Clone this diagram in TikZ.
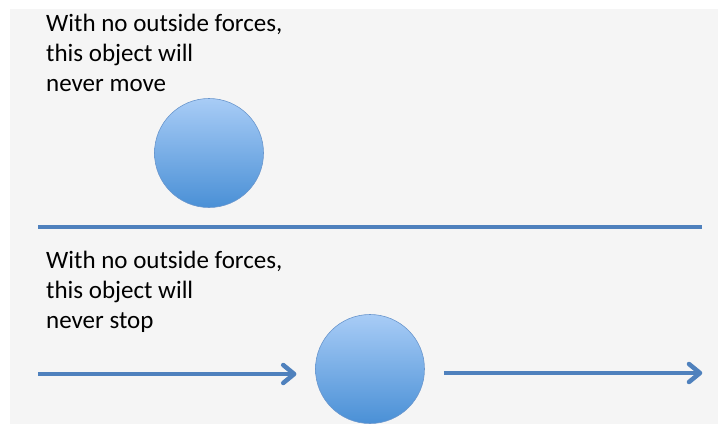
\documentclass[tikz,border=0pt]{standalone}
\usepackage{fontspec}
\setmainfont{Carlito}
\definecolor{linkblue}{RGB}{79,129,189}
\definecolor{balltop}{RGB}{168,204,246}
\definecolor{ballbottom}{RGB}{74,144,214}
\definecolor{ballrim}{RGB}{105,150,205}
\definecolor{slide}{RGB}{245,245,245}
\tikzset{
  ball/.style={circle, minimum size=109pt, inner sep=0pt, draw=ballrim, line width=0.6pt, top color=balltop, bottom color=ballbottom},
  caption/.style={anchor=north west, inner sep=0pt, align=left, text=black, font=\fontsize{25}{30}\selectfont},
  rule/.style={draw=linkblue, line width=4.5pt},
  barb/.pic={\draw[rule, line join=round, line cap=round] (-11,-9) -- (0,0) -- (-11,9);}
}
\begin{document}
\begin{tikzpicture}[x=1pt,y=-1pt]
        \useasboundingbox (0,0) rectangle (718,424);
        \fill[slide] (10,9) rectangle (718,424);
        \node[caption] (resttext) at (46,14) {With no outside forces,\\this object will\\never move};
        \node[ball] (ball1) at (209,153) {};
        \coordinate (ruleL) at (38,227);
        \coordinate (ruleR) at (702,227);
        \draw[rule] (ruleL) -- (ruleR);
        \node[caption] (movetext) at (46,251) {With no outside forces,\\this object will\\never stop};
        \node[ball] (ball2) at (370,369) {};
        \coordinate (pushin) at (38,374);
        \coordinate (pushout) at (700,373);
        \path (ball2.west |- pushin) ++(-21,0) coordinate (pushtip);
        \path (ball2.east |- pushout) ++(19,0) coordinate (pushstart);
        \draw[rule] (pushin) -- (pushtip);
        \pic at (pushtip) {barb};
        \draw[rule] (pushstart) -- (pushout);
        \pic at (pushout) {barb};
      \end{tikzpicture}
\end{document}
